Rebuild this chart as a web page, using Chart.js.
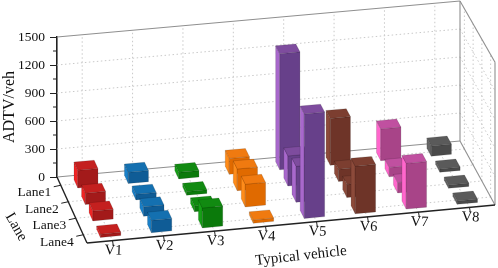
<!DOCTYPE html>
<html>
<head>
<meta charset="utf-8">
<title>ADTV by typical vehicle and lane</title>
<script src="https://cdn.jsdelivr.net/npm/chart.js@4"></script>
<style>
    html, body { margin: 0; padding: 0; background: #fff; }
    #wrap { width: 498px; height: 268px; }
</style>
</head>
<body>
<div id="wrap"><canvas id="grafico"></canvas></div>
<script>
// ── Dados ────────────────────────────────────────────────────────
const vehicles = ['V1', 'V2', 'V3', 'V4', 'V5', 'V6', 'V7', 'V8'];
const lanes    = ['Lane1', 'Lane2', 'Lane3', 'Lane4'];
const yTicks   = [0, 300, 600, 900, 1200, 1500];

const lane1 = [190, 120,  70, 170, 1240, 500, 340, 110];
const lane2 = [120,  60,  40, 230,  320, 130, 100,  35];
const lane3 = [105, 100,  60, 240,  380, 140, 110,  35];
const lane4 = [ 35, 130, 210,  35, 1100, 500, 480,  35];

const frontColors = ['#a31a1a', '#0f5c96', '#0b7a0b', '#e06a00', '#67408a', '#6e3428', '#a84488', '#4a4a4a'];
const topColors   = ['#c4201f', '#1470b0', '#118a11', '#f07a10', '#7e4c9e', '#7c3e30', '#c050a0', '#5a5a5a'];
const sideColors  = ['#f02525', '#1a80c8', '#16a016', '#ff8c1a', '#a868cc', '#8c4a3a', '#ff66cc', '#666666'];

// ── Projeção da caixa ────────────────────────────────────────────
// Cantos do piso em pixels; o eixo x/y do Chart.js é a parede do fundo.
const FLOOR = { A: [57, 177], B: [460, 141], C: [495, 205], D: [87, 243] };
const BAR_HALF_X = 0.2, BAR_HALF_L = 0.25;

function project(chart, px, py, d) {
    const area = chart.chartArea;
    const u = (px - area.left) / (area.right - area.left);
    const { A, B, C, D } = FLOOR;
    const fx = (1 - d) * ((1 - u) * A[0] + u * B[0]) + d * ((1 - u) * D[0] + u * C[0]);
    const fy = (1 - d) * ((1 - u) * A[1] + u * B[1]) + d * ((1 - u) * D[1] + u * C[1]);
    const h = (area.bottom - py) * (1 + 0.02 * d);
    return [fx, fy - h];
}

function depthOf(chart, l) {
    const s = chart.scales.lane;
    return (s.getPixelForValue(l) - s.top) / (s.bottom - s.top);
}

function poly(ctx, pts, fill, stroke) {
    ctx.beginPath();
    pts.forEach((p, i) => i ? ctx.lineTo(p[0], p[1]) : ctx.moveTo(p[0], p[1]));
    ctx.closePath();
    if (fill) { ctx.fillStyle = fill; ctx.fill(); }
    if (stroke) { ctx.strokeStyle = stroke; ctx.lineWidth = 0.6; ctx.stroke(); }
}

function seg(ctx, a, b) {
    ctx.beginPath();
    ctx.moveTo(a[0], a[1]);
    ctx.lineTo(b[0], b[1]);
    ctx.stroke();
}

// ── Controller: barras 3D ────────────────────────────────────────
class Bar3DController extends Chart.BarController {
    draw() {
        const chart = this.chart, ctx = chart.ctx;
        const x = chart.scales.x, y = chart.scales.y;
        const laneIdx = this.index;
        const vals = this.getDataset().data;
        // de trás para frente dentro da pista; a câmera está à esquerda
        for (let i = vals.length - 1; i >= 0; i--) {
            const x0 = x.getPixelForValue(i - BAR_HALF_X), x1 = x.getPixelForValue(i + BAR_HALF_X);
            const d0 = depthOf(chart, laneIdx - BAR_HALF_L), d1 = depthOf(chart, laneIdx + BAR_HALF_L);
            const y0 = y.getPixelForValue(0), yv = y.getPixelForValue(vals[i]);
            const bl = project(chart, x0, yv, d0), br = project(chart, x1, yv, d0);
            const fl = project(chart, x0, yv, d1), fr = project(chart, x1, yv, d1);
            const bb = project(chart, x0, y0, d0);
            const gl = project(chart, x0, y0, d1), gr = project(chart, x1, y0, d1);
            const edge = 'rgba(0,0,0,0.22)';
            poly(ctx, [bl, fl, gl, bb], sideColors[i], edge);
            poly(ctx, [fl, fr, gr, gl], frontColors[i], edge);
            poly(ctx, [bl, br, fr, fl], topColors[i], edge);
        }
    }
}
Bar3DController.id = 'bar3d';
Bar3DController.defaults = Chart.BarController.defaults;
Bar3DController.overrides = Chart.BarController.overrides;
Chart.register(Bar3DController);

// ── Caixa, grade e eixos inclinados ──────────────────────────────
const boxPlugin = {
    id: 'box3d',
    beforeDatasetsDraw(chart) {
        const ctx = chart.ctx, a = chart.chartArea;
        const x = chart.scales.x, y = chart.scales.y;
        const L = a.left, R = a.right, y0 = y.getPixelForValue(0), yT = y.getPixelForValue(1500);
        ctx.save();

        // grade pontilhada
        ctx.strokeStyle = '#c9c9c9';
        ctx.lineWidth = 1;
        ctx.setLineDash([1.5, 2.5]);
        yTicks.slice(1, -1).forEach(v => {
            const py = y.getPixelForValue(v);
            seg(ctx, project(chart, L, py, 0), project(chart, R, py, 0));
            seg(ctx, project(chart, R, py, 0), project(chart, R, py, 1));
        });
        vehicles.forEach((_, i) => {
            const px = x.getPixelForValue(i);
            seg(ctx, project(chart, px, y0, 0), project(chart, px, yT, 0));
            seg(ctx, project(chart, px, y0, 0), project(chart, px, y0, 1));
        });
        lanes.forEach((_, l) => {
            const d = depthOf(chart, l);
            seg(ctx, project(chart, L, y0, d), project(chart, R, y0, d));
            seg(ctx, project(chart, R, y0, d), project(chart, R, yT, d));
        });

        // contorno cinza das paredes
        ctx.setLineDash([]);
        ctx.strokeStyle = '#8f8f8f';
        ctx.lineWidth = 1.1;
        seg(ctx, project(chart, L, yT, 0), project(chart, R, yT, 0));
        seg(ctx, project(chart, L, y0, 0), project(chart, R, y0, 0));
        seg(ctx, project(chart, R, y0, 0), project(chart, R, yT, 0));
        seg(ctx, project(chart, R, yT, 0), project(chart, R, yT, 1));
        seg(ctx, project(chart, R, yT, 1), project(chart, R, y0, 1));
        seg(ctx, project(chart, R, y0, 0), project(chart, R, y0, 1));
        ctx.restore();
    },
    afterDatasetsDraw(chart) {
        const ctx = chart.ctx, a = chart.chartArea;
        const x = chart.scales.x, y = chart.scales.y;
        const L = a.left, R = a.right, y0 = y.getPixelForValue(0);
        ctx.save();

        // eixos da frente
        ctx.strokeStyle = '#222';
        ctx.lineWidth = 1.4;
        seg(ctx, project(chart, L, y0, 0), project(chart, L, y0, 1));
        seg(ctx, project(chart, L, y0, 1), project(chart, R, y0, 1));

        // marcas menores do eixo y
        ctx.lineWidth = 1;
        yTicks.slice(0, -1).forEach(v => {
            const py = y.getPixelForValue(v + 150);
            seg(ctx, [L - 4, py], [L, py]);
        });

        ctx.fillStyle = '#111';
        ctx.font = '13.5px "Liberation Serif"';
        ctx.textBaseline = 'middle';

        // rótulos das pistas
        ctx.textAlign = 'right';
        lanes.forEach((name, l) => {
            const p = project(chart, L, y0, depthOf(chart, l));
            seg(ctx, p, [p[0] - 7, p[1] + 1.5]);
            ctx.fillText(name, p[0] - 9.5, p[1] + 7.5);
        });

        // rótulos dos veículos
        ctx.textAlign = 'center';
        ctx.font = '14.5px "Liberation Serif"';
        vehicles.forEach((name, i) => {
            const p = project(chart, x.getPixelForValue(i), y0, 1);
            seg(ctx, p, [p[0] + 0.8, p[1] + 5]);
            ctx.save();
            ctx.translate(p[0] + 1, p[1] + 10);
            ctx.rotate(0.04);
            ctx.fillText(name, 0, 0);
            ctx.restore();
        });

        // títulos inclinados
        ctx.font = '15px "Liberation Serif"';
        ctx.save();
        ctx.translate(16, 227);
        ctx.rotate(1.05);
        ctx.fillText('Lane', 0, 0);
        ctx.restore();
        ctx.save();
        ctx.translate(301, 256);
        ctx.rotate(-0.11);
        ctx.fillText('Typical vehicle', 0, 0);
        ctx.restore();
        ctx.restore();
    }
};

// ── Gráfico ──────────────────────────────────────────────────────
const laneSeries = [lane1, lane2, lane3, lane4];

new Chart(document.getElementById('grafico').getContext('2d'), {
    type: 'bar3d',
    data: {
        labels: vehicles,
        datasets: laneSeries.map((data, l) => ({ label: lanes[l], data, order: lanes.length - l, clip: false }))
    },
    options: {
        responsive: true,
        maintainAspectRatio: false,
        animation: false,
        events: [],
        layout: { padding: { left: 0, right: 38, top: 37, bottom: 91 } },
        plugins: { legend: { display: false }, tooltip: { enabled: false } },
        scales: {
            x: { type: 'category', display: false, offset: true },
            lane: { type: 'category', axis: 'y', labels: lanes, display: false, offset: true },
            y: {
                type: 'linear',
                position: 'left',
                min: 0,
                max: 1500,
                afterFit(scale) { scale.width = 57; },
                afterBuildTicks(scale) { scale.ticks = yTicks.map(value => ({ value })); },
                border: { display: true, color: '#222', width: 1.6 },
                grid: { drawOnChartArea: false, drawTicks: true, tickLength: 7, color: '#222' },
                ticks: {
                    padding: 5,
                    color: '#111',
                    font: { family: '"Liberation Serif"', size: 13.5 },
                    callback: value => String(value)
                },
                title: {
                    display: true,
                    text: 'ADTV/veh',
                    color: '#111',
                    padding: { top: 0, bottom: 0 },
                    font: { family: '"Liberation Serif"', size: 16 }
                }
            }
        }
    },
    plugins: [boxPlugin]
});
</script>
</body>
</html>
